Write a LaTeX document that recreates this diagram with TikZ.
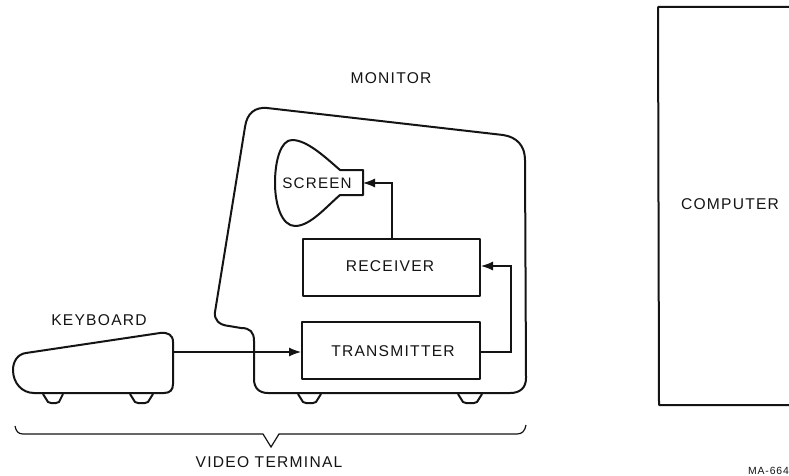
\documentclass[tikz,border=0pt]{standalone}
\usepackage{fontspec}
\setmainfont[LetterSpace=8]{Liberation Sans}
\usetikzlibrary{arrows.meta}
\definecolor{ink}{gray}{0.08}
\tikzset{
  heavy/.style={draw=ink,line width=2pt,line join=round},
  wire/.style={draw=ink,line width=1.2pt},
  wirearrow/.style={wire,-{Latex[length=12pt,width=9pt]}},
  unitbox/.style={heavy,minimum height=57pt,inner sep=0pt,anchor=north west},
  lbl/.style={inner sep=0pt,text=ink,font=\fontsize{15.6}{17}\selectfont},
  small/.style={inner sep=0pt,text=ink,font=\fontsize{10.4}{12}\selectfont}
}
\begin{document}
\begin{tikzpicture}[x=1pt,y=-1pt]
\useasboundingbox (0,0) rectangle (789,476);
\fill[white] (0,0) rectangle (789,476);
% monitor housing
\draw[heavy] (245,127) .. controls (247,113) and (255,107) .. (267,108)
  -- (503,135) .. controls (517,137) and (525,146) .. (525,160)
  -- (526,378) .. controls (526,388) and (520,393) .. (510,393)
  -- (268,393) .. controls (259,393) and (254,388) .. (254,379)
  -- (254,341) .. controls (254,332) and (250,328) .. (241,328)
  -- (229,326) .. controls (219,325) and (214,320) .. (215,312) -- cycle;
% monitor feet
\draw[heavy] (298,394) -- (303,402) .. controls (304,403) and (304,403) .. (306,403) -- (313,403) .. controls (315,403) and (315,403) .. (316,402) -- (321,394);
\draw[heavy] (458,394) -- (463,402) .. controls (464,403) and (464,403) .. (466,403) -- (474,403) .. controls (476,403) and (476,403) .. (477,402) -- (482,394);
% screen tube
\draw[heavy] (340,170) -- (363,170) -- (363,195) -- (340,195)
  .. controls (325,208) and (310,226) .. (295,226)
  .. controls (282,226) and (275,205) .. (275,183)
  .. controls (275,160) and (281,140) .. (292,140)
  .. controls (307,140) and (325,157) .. (340,170) -- cycle;
\coordinate (screenport) at (363,183);
\node[lbl,font=\fontsize{15.2}{17}\selectfont] (screen) at (317,183) {SCREEN};
\node[lbl] (monitor) at (391,78) {MONITOR};
% units
\node[unitbox,minimum width=177pt] (receiver) at (302,238) {};
\node[unitbox,minimum width=178pt] (transmitter) at (301,321) {};
\node[lbl] (receiverlabel) at (390,266) {RECEIVER};
\node[lbl] (transmitterlabel) at (393,351) {TRANSMITTER};
% keyboard
\draw[heavy] (26,353) -- (160,333) .. controls (168,332) and (173,335) .. (173,342)
  -- (173,384) .. controls (173,390) and (170,393) .. (164,393)
  -- (34,393) .. controls (22,393) and (13,383) .. (13,370)
  .. controls (13,361) and (18,354) .. (26,353) -- cycle;
\draw[heavy] (43,394) -- (48,402) .. controls (49,403) and (49,403) .. (51,403) -- (56,403) .. controls (58,403) and (58,403) .. (59,402) -- (63,394);
\draw[heavy] (130,394) -- (135,402) .. controls (136,403) and (136,403) .. (138,403) -- (145,403) .. controls (147,403) and (147,403) .. (148,402) -- (153,394);
\coordinate (keyboardport) at (173,352);
\node[lbl] (keyboard) at (99,320) {KEYBOARD};
% connectors
\draw[wirearrow] (keyboardport) -- (keyboardport -| transmitter.west);
\coordinate (txout) at (transmitter.east |- keyboardport);
\coordinate (rxin) at (receiver.east);
\coordinate (rxtop) at (392,238);
\coordinate (loopA) at (511,352);
\coordinate (loopB) at (511,266);
\draw[wirearrow] (txout) -- (loopA) -- (loopB) -- (rxin |- loopB);
\draw[wirearrow] (rxtop) -- (rxtop |- screenport) -- (screenport);
% brace
\draw[wire] (15,426) .. controls (16,431) and (18,434) .. (23,434) -- (263,434) -- (271,447) -- (279,434)
  -- (517,434) .. controls (522,434) and (525,431) .. (526,425);
\node[lbl] (terminal) at (269,462) {VIDEO TERMINAL};
% computer
\draw[heavy] (789,7) -- (658,7) -- (659,405) -- (789,405);
\node[lbl] (computer) at (730,204) {COMPUTER};
\node[small,anchor=east] (code) at (789,471) {MA-664};
\end{tikzpicture}
\end{document}
